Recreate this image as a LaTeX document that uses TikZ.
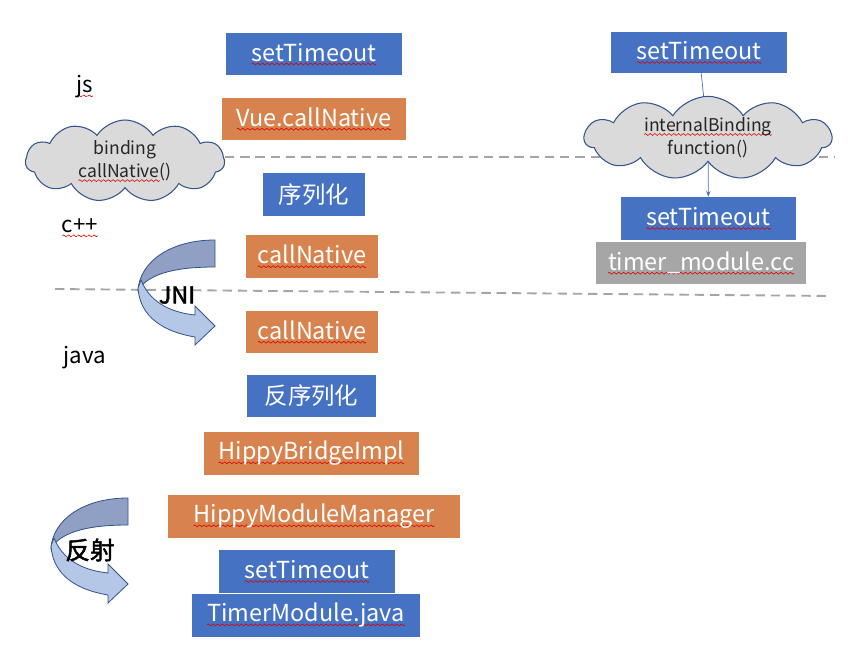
\documentclass[tikz,border=0pt]{standalone}
\usepackage{fontspec}
\setmainfont{Noto Sans CJK SC}[AutoFakeBold=2]
\usetikzlibrary{shapes.symbols,arrows.meta}

\definecolor{boxblue}{RGB}{70,114,196}
\definecolor{boxorange}{RGB}{216,131,77}
\definecolor{boxgray}{RGB}{166,166,166}
\definecolor{sepgray}{RGB}{165,165,165}
\definecolor{cloudfill}{RGB}{218,218,218}
\definecolor{cloudline}{RGB}{52,84,140}
\definecolor{bandlight}{RGB}{180,199,231}
\definecolor{banddark}{RGB}{143,160,196}

% red spell-check wave under a word
\newsavebox\wavebox
\newsavebox\splbox
\AtBeginDocument{\sbox\wavebox{\begin{pgfpicture}
  \pgfpathrectangle{\pgfpoint{0pt}{-1pt}}{\pgfpoint{4pt}{2pt}}\pgfusepath{use as bounding box}
  \pgfsetlinewidth{0.5pt}\pgfsetstrokecolor{red!85!black}
  \pgfpathmoveto{\pgfpointorigin}
  \pgfpathsine{\pgfpoint{1pt}{0.8pt}}\pgfpathcosine{\pgfpoint{1pt}{-0.8pt}}
  \pgfpathsine{\pgfpoint{1pt}{-0.8pt}}\pgfpathcosine{\pgfpoint{1pt}{0.8pt}}
  \pgfusepath{stroke}\end{pgfpicture}}}
\newcommand\spl[1]{\sbox\splbox{#1}\leavevmode
  \rlap{\lower3.5pt\hbox to \wd\splbox{\xleaders\copy\wavebox\hfil}}\usebox\splbox}

\begin{document}
\begin{tikzpicture}[x=0.03cm,y=-0.03cm]
    \tikzstyle{box}=[text=white,inner sep=0pt,font=\fontsize{20}{24}\selectfont]
    \tikzstyle{bubble}=[cloud,cloud puffs=11,cloud puff arc=115,cloud ignores aspect,draw=cloudline,fill=cloudfill,line width=0.9pt,inner sep=0pt,align=center,text=black!85,font=\fontsize{15}{20}\selectfont]
    \tikzstyle{sep}=[sepgray,line width=1.6pt,dash pattern=on 8pt off 5pt]
    \tikzstyle{layer}=[text=black,font=\fontsize{19}{22}\selectfont]
    \tikzstyle{flow}=[boxblue,line width=0.6pt]
    \tikzset{turn/.pic={
        \filldraw[fill=banddark,draw=cloudline,line width=0.7pt] (0,0) .. controls (-45,0) and (-75,22) .. (-77,50)
            .. controls (-65,32) and (-35,27) .. (0,27) -- cycle;
        \filldraw[fill=bandlight,draw=cloudline,line width=0.7pt] (-77,48) .. controls (-75,78) and (-50,92) .. (-20,97)
            -- (-20,105) -- (0,86) -- (-20,66) -- (-20,75) .. controls (-48,72) and (-66,60) .. (-74,40) -- cycle;
    }}
    \useasboundingbox (0,0) rectangle (868,672);

    % layers
    \draw[sep] (225,157) -- (835,157);
    \draw[sep] (55,289) -- (830,296);

    \node[layer] (js) at (85,87) {\spl{js}};
    \node[layer] (cpp) at (80,228) {\spl{c++}};
    \node[layer] (java) at (85,358) {java};

    \foreach \nm/\cx/\cy/\w/\h/\col/\txt in {
            st1/314/54/176/42/boxblue/{\spl{setTimeout}},
            vue/314/119/184/42/boxorange/{\spl{Vue.callNative}},
            ser/314/194.5/102/43/boxblue/{序列化},
            cn1/312/256.5/132/43/boxorange/{\spl{callNative}},
            cn2/312/332/132/42/boxorange/{\spl{callNative}},
            deser/311.5/396/129/42/boxblue/{反序列化},
            hbi/311.5/453.5/215/43/boxorange/{\spl{HippyBridgeImpl}},
            hmm/314/516.5/292/43/boxorange/{\spl{HippyModuleManager}},
            st2/307/571.5/176/43/boxblue/{\spl{setTimeout}},
            tmj/306/615.5/228/43/boxblue/{\spl{TimerModule.java}},
            rst1/699/52.5/176/41/boxblue/{\spl{setTimeout}},
            rst2/708.5/218.5/175/43/boxblue/{\spl{setTimeout}},
            tmc/701/263/210/42/boxgray/{\spl{timer\_module.cc}}}
        \node[box,fill=\col,minimum width=\w*0.03cm,minimum height=\h*0.03cm] (\nm) at (\cx,\cy) {\txt};

    \node[bubble,minimum width=199*0.03cm,minimum height=82*0.03cm] (bind) at (125,161) {binding\\\spl{callNative}()};
    \node[bubble,minimum width=247*0.03cm,minimum height=79*0.03cm] (ibind) at (708,138) {\spl{internalBinding}\\function()};

    \draw[flow] (rst1) -- (ibind);
    \draw[flow,-{Stealth[length=5pt]}] (ibind) -- (rst2);

    \pic (jni) at (215,240) {turn};
    \pic (refl) at (128,498) {turn};
    \node[font=\bfseries\fontsize{20}{24}\selectfont] (jnilab) at (177,295) {JNI};
    \node[font=\bfseries\fontsize{21}{24}\selectfont] (refllab) at (90,550) {反射};
\end{tikzpicture}
\end{document}
